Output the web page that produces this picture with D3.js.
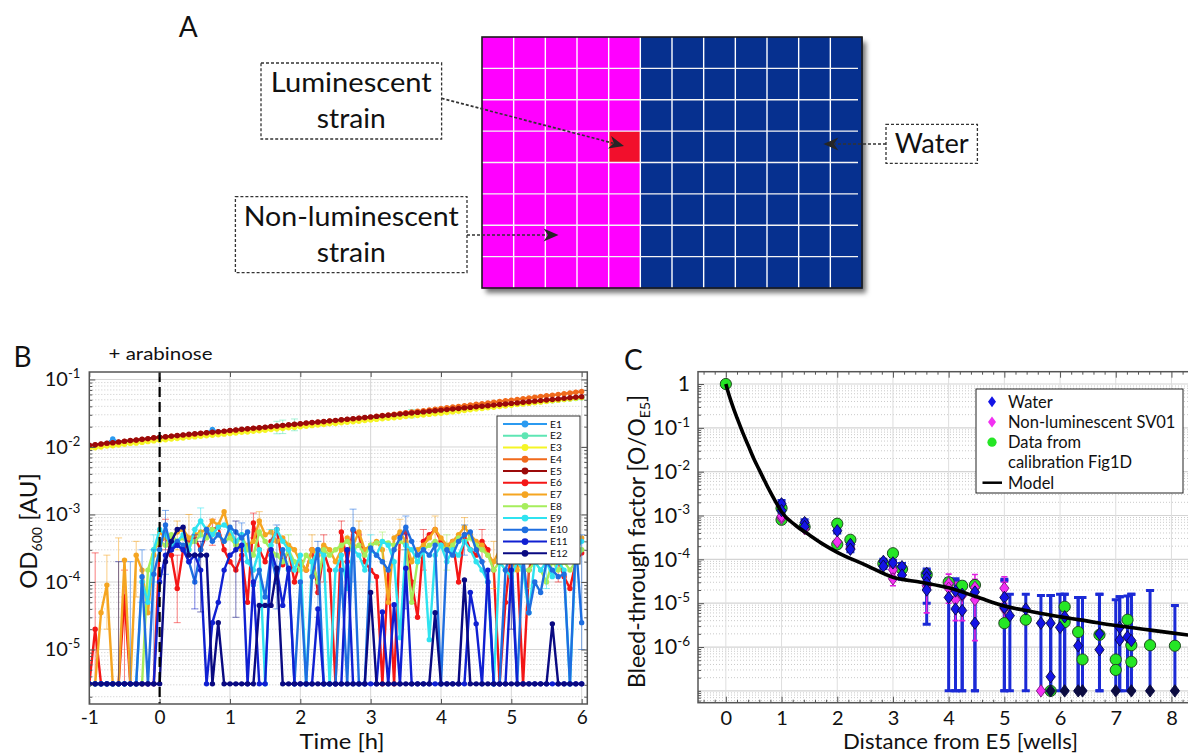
<!DOCTYPE html>
<html><head><meta charset="utf-8">
<script src="https://cdn.jsdelivr.net/npm/d3@7"></script>
<style>
html,body{margin:0;padding:0;background:#fff;}
svg{display:block;}
text{font-family:Lato,"Open Sans",sans-serif;fill:#111;}
</style></head>
<body>
<svg id="fig" width="1188" height="756" viewBox="0 0 1188 756"></svg>
<script>
// ================= DATA =================
// ---- Panel A: plate layout ----
const plateCols = [1,2,3,4,5,6,7,8,9,10,11,12];
const plateRows = [1,2,3,4,5,6,7,8];
const nonLumCols = [1,2,3,4,5];
const lumWell = {row:4, col:5};
const labelLum = ["Luminescent","strain"];
const labelNonLum = ["Non-luminescent","strain"];
const labelWater = "Water";

// ---- Panel B: OD600 time courses ----
const wellNames = ["E1","E2","E3","E4","E5","E6","E7","E8","E9","E10","E11","E12"];
const wellColors = ["#2b9af0","#5ee6b4","#f5f526","#f06a1c","#9b0a0a","#f41616","#f5a521","#a6ee5c","#2fe3f0","#1e6ee0","#1020d2","#0a0a82"];
const timeMin = [-60,-55,-50,-45,-40,-35,-30,-25,-20,-15,-10,-5,
0,5,10,15,20,25,30,35,40,45,50,55,
60,65,70,75,80,85,90,95,100,105,110,115,
120,125,130,135,140,145,150,155,160,165,170,175,
180,185,190,195,200,205,210,215,220,225,230,235,
240,245,250,255,260,265,270,275,280,285,290,295,
300,305,310,315,320,325,330,335,340,345,350,355,
360];
const odE1 = [0.0104,0.0106,0.0109,0.0112,0.0131,0.0117,0.0120,0.0123,0.0124,0.0127,0.0130,0.0134,0.0137,
0.0139,0.0142,0.0145,0.0148,0.0151,0.0154,0.0157,0.0160,0.0182,0.0166,0.0169,0.0172,
0.0175,0.0179,0.0182,0.0186,0.0189,0.0193,0.0197,0.0201,0.0205,0.0209,0.0213,0.0217,
0.0221,0.0225,0.0229,0.0234,0.0239,0.0243,0.0248,0.0253,0.0258,0.0263,0.0268,0.0273,
0.0278,0.0284,0.0289,0.0295,0.0301,0.0307,0.0313,0.0318,0.0324,0.0331,0.0337,0.0344,
0.0351,0.0358,0.0365,0.0371,0.0378,0.0386,0.0393,0.0401,0.0409,0.0417,0.0424,0.0433,
0.0441,0.0450,0.0459,0.0467,0.0476,0.0486,0.0495,0.0505,0.0515,0.0525,0.0534,0.0545];
const odE2 = [0.0102,0.0104,0.0107,0.0109,0.0111,0.0114,0.0117,0.0120,0.0122,0.0125,0.0128,0.0132,0.0134,
0.0136,0.0139,0.0142,0.0145,0.0148,0.0151,0.0154,0.0156,0.0159,0.0162,0.0165,0.0169,
0.0172,0.0176,0.0179,0.0182,0.0185,0.0189,0.0193,0.0197,0.0201,0.0204,0.0208,0.0212,
0.0217,0.0221,0.0225,0.0229,0.0234,0.0238,0.0243,0.0248,0.0252,0.0257,0.0262,0.0268,
0.0273,0.0278,0.0283,0.0289,0.0295,0.0300,0.0306,0.0312,0.0318,0.0324,0.0330,0.0337,
0.0344,0.0350,0.0357,0.0364,0.0371,0.0378,0.0385,0.0393,0.0400,0.0408,0.0416,0.0424,
0.0432,0.0441,0.0449,0.0458,0.0467,0.0476,0.0485,0.0494,0.0504,0.0514,0.0523,0.0534];
const odE3 = [0.00954,0.00972,0.00999,0.0103,0.0104,0.0107,0.0110,0.0113,0.0114,0.0117,0.0120,0.0123,
0.0126,0.0128,0.0131,0.0133,0.0136,0.0139,0.0141,0.0144,0.0147,0.0149,0.0152,0.0155,
0.0158,0.0161,0.0165,0.0167,0.0171,0.0174,0.0177,0.0181,0.0185,0.0188,0.0192,0.0195,
0.0199,0.0203,0.0207,0.0211,0.0215,0.0220,0.0223,0.0228,0.0232,0.0237,0.0241,0.0246,
0.0251,0.0256,0.0261,0.0266,0.0271,0.0276,0.0282,0.0287,0.0293,0.0298,0.0304,0.0310,
0.0316,0.0324,0.0331,0.0339,0.0347,0.0355,0.0364,0.0371,0.0380,0.0388,0.0397,0.0405,
0.0415,0.0424,0.0433,0.0442,0.0452,0.0461,0.0472,0.0482,0.0493,0.0503,0.0514,0.0525,
0.0538];
const odE4 = [0.0105,0.0107,0.0110,0.0113,0.0115,0.0118,0.0121,0.0124,0.0126,0.0129,0.0132,0.0136,
0.0139,0.0141,0.0144,0.0147,0.0150,0.0152,0.0155,0.0158,0.0161,0.0164,0.0167,0.0170,
0.0174,0.0177,0.0181,0.0184,0.0188,0.0191,0.0195,0.0199,0.0203,0.0207,0.0211,0.0215,
0.0219,0.0224,0.0228,0.0232,0.0237,0.0242,0.0246,0.0251,0.0256,0.0261,0.0266,0.0271,
0.0277,0.0285,0.0293,0.0299,0.0307,0.0315,0.0322,0.0330,0.0338,0.0346,0.0355,0.0363,
0.0372,0.0381,0.0391,0.0400,0.0409,0.0419,0.0429,0.0439,0.0450,0.0461,0.0472,0.0483,
0.0495,0.0507,0.0520,0.0533,0.0546,0.0559,0.0573,0.0587,0.0602,0.0616,0.0631,0.0646,
0.0662];
const odE5 = [0.0106,0.0108,0.0111,0.0114,0.0116,0.0119,0.0122,0.0125,0.0127,0.0130,0.0133,0.0137,
0.0140,0.0142,0.0145,0.0148,0.0151,0.0154,0.0157,0.0160,0.0163,0.0166,0.0169,0.0172,
0.0176,0.0179,0.0183,0.0186,0.0190,0.0193,0.0197,0.0201,0.0205,0.0209,0.0213,0.0217,
0.0221,0.0226,0.0230,0.0234,0.0239,0.0244,0.0248,0.0253,0.0258,0.0263,0.0268,0.0273,
0.0279,0.0284,0.0290,0.0295,0.0301,0.0307,0.0313,0.0319,0.0325,0.0331,0.0338,0.0344,
0.0351,0.0358,0.0365,0.0372,0.0379,0.0386,0.0394,0.0401,0.0409,0.0417,0.0425,0.0433,
0.0442,0.0450,0.0459,0.0468,0.0477,0.0486,0.0496,0.0505,0.0515,0.0525,0.0535,0.0545,
0.0556];
// 0 = below detection (drawn on the bottom baseline)
const odE6 = [0,2e-5,0,0,0,0,6e-5,0,0,0,0,0,
3.5e-4,5e-4,2.5e-4,8e-5,3e-4,4e-4,4.5e-4,3e-4,5e-4,6e-4,6.5e-4,3e-4,
2e-4,1.5e-4,2.5e-4,5e-5,7.5e-4,3e-4,2e-4,4e-4,6e-4,1.8e-4,3e-4,1e-4,
2e-4,1.5e-4,3e-4,7e-5,2.8e-4,1.5e-4,0,5.5e-4,2e-4,5.8e-4,5e-4,2e-4,
1.5e-4,1.2e-4,0,1.5e-4,0,5e-4,5.5e-4,1e-4,3e-5,4e-4,5e-4,6e-4,
4e-4,3e-4,4e-4,1e-4,5e-4,3e-4,2.5e-4,4e-4,3e-4,1.5e-4,0,5e-5,
3e-4,2e-4,0,1.5e-4,3e-4,2.5e-4,2e-4,3e-4,2e-4,1.2e-4,8e-5,2e-4,
2.7e-4];
const odE7 = [0,0,3.5e-5,9e-5,0,0,2.1e-4,0,2.5e-4,1.5e-4,3.5e-5,2.5e-4,
5.5e-4,4.5e-4,4.5e-4,5.5e-4,6e-4,4.5e-4,5e-4,5.5e-4,6e-4,8e-4,7e-4,1.1e-3,
5e-4,4e-4,3e-4,3.5e-4,4e-4,8e-4,5e-4,5.5e-4,4e-4,4.5e-4,3.5e-4,3e-4,
2e-4,1.5e-4,3e-4,2.5e-4,3.5e-4,3e-4,2e-4,3e-4,4.5e-4,3.5e-4,5.5e-4,3e-4,
3.5e-4,4e-4,3e-4,5e-5,4.5e-4,5.5e-4,4e-4,2e-4,3e-4,3.5e-4,4.5e-4,6e-4,
4.5e-4,3.5e-4,4e-4,5e-4,6.5e-4,5e-4,4e-4,3.5e-4,2.5e-4,2e-4,3e-4,2.5e-4,
2e-4,1.5e-4,2.5e-4,3e-4,2e-4,2.5e-4,3e-4,2.5e-4,3e-4,2e-4,2.5e-4,3.5e-4,
4.5e-4];
const odE8 = [0,0,0,0,0,0,0,0,0,0,1.5e-4,3e-4,
4e-4,3.5e-4,5e-4,4e-4,4.5e-4,3.5e-4,4e-4,5e-4,4.5e-4,6e-4,5e-4,4e-4,
4.5e-4,3.5e-4,5e-4,3e-4,2.5e-4,5.5e-4,4e-4,3e-4,2.5e-4,2e-4,3e-4,2e-4,
1.5e-4,2.5e-4,2e-4,1e-4,3e-4,2.5e-4,3e-4,3.5e-4,4e-4,3e-4,3.5e-4,2.5e-4,
3.5e-4,3.8e-4,4e-4,3.8e-4,3.5e-4,4e-4,3.5e-4,5e-5,2e-4,3e-4,3.5e-4,4e-4,
3.5e-4,3e-4,3.5e-4,4.5e-4,4e-4,4.5e-4,3.5e-4,3e-4,2.5e-4,1.5e-4,2e-4,1.5e-4,
1.2e-4,2e-4,1.5e-4,1.5e-4,2e-4,1.5e-4,1e-4,2e-4,1.5e-4,2e-4,1.5e-4,2e-4,
3e-4];
const odE9 = [0,0,0,0,0,0,0,0,0,1e-4,5e-5,3e-4,
6e-4,5e-4,3.5e-4,4e-4,5e-4,3e-4,6e-4,8e-4,6e-4,5e-4,6.5e-4,7e-4,
6e-4,4e-4,5e-4,2e-4,1.5e-4,3e-4,0,3.5e-4,6e-4,4e-4,3e-4,1.5e-4,
2.5e-4,0,2e-4,3e-4,2.5e-4,0,1.5e-4,2.5e-4,8e-5,3e-4,2.5e-4,1.5e-4,
3e-4,2.5e-4,4e-4,3.5e-4,2e-4,1.5e-5,3.5e-4,3e-4,2e-4,3e-4,1.4e-5,2.5e-4,
3.5e-4,2e-4,3e-4,2.5e-4,4e-4,3e-4,2e-4,1.5e-4,1e-4,0,2e-4,1.5e-4,
1.2e-4,2e-4,1.5e-4,3.5e-5,2e-4,1.5e-4,2e-4,1.2e-4,2e-4,1.5e-4,0,3e-4,
4e-4];
const odE10 = [0,0,0,0,0,0,0,0,0,1.2e-4,0,1.3e-4,
3e-4,7e-4,3e-4,4e-4,3.5e-4,2e-4,1e-4,3e-4,6e-4,4e-4,5e-4,4e-4,
6.5e-4,5.5e-4,4.5e-4,5.5e-4,9e-5,1.5e-4,6e-5,2.5e-4,1e-4,3e-4,1.5e-4,0,
1e-4,0,1.2e-4,3e-4,0,0,0,1.5e-4,0,6e-4,0,0,
3.2e-4,2.5e-4,2e-4,1.5e-4,3e-4,4.5e-4,6.5e-4,4e-4,2.5e-4,3e-4,2.5e-4,3.5e-4,
0,3e-4,2.5e-4,4e-4,5e-4,5.5e-4,3e-4,2e-4,1e-4,0,0,1.5e-4,
3e-4,0,2.5e-4,3.5e-5,1e-4,7e-5,2e-4,1.5e-4,1.2e-4,1.3e-4,0,4e-4,
2.5e-5];
const odE11 = [0,0,0,0,0,0,0,0,0,0,0,0,
1e-4,2.5e-4,3e-4,3.5e-4,3e-4,2e-4,2.5e-4,1.5e-4,0,2.5e-5,5e-5,1.5e-4,
2.5e-4,3e-4,3.5e-4,0,1e-4,0,0,3e-4,1.5e-4,4.5e-5,1.6e-4,0,
0,0,0,4e-5,0,0,0,0,3e-4,0,0,0,
0,0,3.6e-5,0,4.6e-5,0,1.6e-4,0,0,0,0,0,
0,0,0,0,0,7e-5,2.4e-5,0,1.5e-4,0,0,0,
1.5e-4,0,0,0,0,0,0,0,0,0,0,0,
0];
const odE12 = [0,0,0,0,0,0,0,0,0,0,0,0,
0,2e-4,4e-4,6e-4,6.5e-4,2.5e-4,2.5e-4,2.5e-4,2.5e-4,0,2.5e-5,0,
0,0,0,0,0,4.5e-5,4.5e-5,4.5e-5,1.6e-4,0,0,0,
0,0,0,0,0,0,0,0,0,0,0,0,
7e-5,0,0,0,0,0,0,0,0,0,0,3.5e-5,
0,0,0,0,1.07e-4,0,0,0,0,0,0,0,
0,0,0,0,0,0,0,2.4e-5,0,0,0,0,
0];
const odSeries = [odE1,odE2,odE3,odE4,odE5,odE6,odE7,odE8,odE9,odE10,odE11,odE12];
// visible error bars: [well index, time index, lower, upper] (0 = baseline)
const errBarsB = [
[1,32,0.0157,0.024],[1,33,0.0158,0.025],[1,35,0.0174,0.026],[1,55,0.027,0.036],
[5,1,0,2.7e-4],[6,3,2e-5,2.5e-4],[6,5,0,4.5e-4],[11,5,0,2e-4],[9,7,0,2e-4],[9,9,5e-5,3e-4],
[5,6,0,1.5e-4],[6,8,6e-5,4e-4],[9,11,0,3e-4],[8,11,1e-4,5e-4],[9,13,1.3e-4,1.15e-3],
[5,13,3e-4,8.5e-4],[6,15,3e-4,8e-4],[5,15,2.5e-5,2.5e-4],[6,17,2.5e-4,1e-3],[8,19,4.5e-4,1.25e-3],
[11,19,3.6e-5,4e-4],[10,18,4e-5,5e-4],[5,21,3.5e-4,8.5e-4],[11,25,3e-5,8e-4],[9,26,2e-4,7.5e-4],
[5,28,4.5e-4,1.05e-3],[6,29,5e-4,1.1e-3],[8,31,2e-4,6e-4],[9,32,4e-5,7e-4],[7,34,1.5e-4,5e-4],
[6,38,1.5e-4,5e-4],[9,39,3e-5,4e-4],[5,40,1e-4,5e-4],[9,45,1e-4,1.2e-3],[6,46,3.5e-4,8e-4],
[5,43,2e-4,8e-4],[8,48,1e-4,5e-4],[7,50,2e-4,5.5e-4],[9,54,3e-4,9.5e-4],[6,53,3e-4,8.5e-4],
[5,57,1.5e-4,6e-4],[10,54,4e-5,5e-4],[6,59,4e-4,9.5e-4],[7,61,1.5e-4,5e-4],[9,64,2.5e-4,7e-4],
[6,64,4e-4,9e-4],[5,67,2e-4,6e-4],[6,69,8e-5,4e-4],[9,72,5e-5,5e-4],[11,72,2e-5,3e-4],
[7,75,8e-5,3e-4],[8,78,8e-5,3.5e-4],[5,80,1e-4,3.5e-4],[6,83,2e-4,5e-4],[9,84,1e-5,5e-4]];
const hoursB = [-1,0,1,2,3,4,5,6];
const decadesB = [1e-1,1e-2,1e-3,1e-4,1e-5];

// ---- Panel C: bleed-through vs distance ----
const waterDist = [1.000,1.000,1.414,1.414,2.000,2.236,2.236,2.828,2.828,3.000,3.162,3.162,3.606,3.606,3.606,3.606,
4.000,4.123,4.123,4.243,4.243,4.472,4.472,5.000,5.000,5.099,5.385,5.657,5.831,5.831,5.831,6.000,6.083,6.083,
6.325,6.325,6.403,6.708,6.708,7.000,7.071,7.071,7.211,7.280,7.280,7.616,8.062];
const waterVal = [1.85e-3,1.3e-3,6.9e-4,5.6e-4,4.5e-4,2.2e-4,1.7e-4,9e-5,7e-5,8.3e-5,6.8e-5,4.4e-5,4.8e-5,3.8e-5,2.9e-5,2e-5,
1.35e-5,1.9e-5,7.4e-6,1.6e-5,6.8e-6,1.8e-5,3.5e-6,1.35e-5,8e-6,5.2e-6,7.4e-6,3.5e-6,3.5e-6,2.1e-7,0,2.8e-6,4.9e-6,0,
1.07e-6,0,0,2e-6,8.7e-7,0,2.8e-6,1.45e-6,1.7e-6,1.4e-6,0,0,0];
const waterErrLo = [1.6e-3,1.15e-3,6e-4,5e-4,4e-4,1.9e-4,1.5e-4,8e-5,6.2e-5,7e-5,5.8e-5,3.5e-5,4e-5,2.2e-5,1e-5,3.3e-6,
0,0,0,0,0,0,0,0,0,0,0,0,0,0,0,0,0,0,
0,0,0,0,0,0,0,0,0,0,0,0,0];
const waterErrHi = [2.2e-3,1.45e-3,8e-4,6.3e-4,5e-4,2.6e-4,1.9e-4,1e-4,8e-5,9.5e-5,8e-5,5.5e-5,6e-5,5.5e-5,4.5e-5,3.5e-5,
3.6e-5,3.6e-5,3.3e-5,3e-5,2.8e-5,2.9e-5,2.7e-5,3.5e-5,3.2e-5,1.6e-5,1.6e-5,1.5e-5,1.5e-5,1.5e-5,1.5e-5,1.6e-5,1.6e-5,1.6e-5,
1.35e-5,1.35e-5,1.35e-5,1.6e-5,1.6e-5,1.2e-5,1.4e-5,1.4e-5,1.45e-5,1.6e-5,1.6e-5,1.95e-5,8.9e-6];
const nonLumDist = [1.000,1.000,1.414,2.000,2.236,3.000,3.000,3.606,4.000,4.000,4.123,4.243,4.472,4.472,5.000,5.000,5.657];
const nonLumVal = [8.7e-4,9.6e-4,5e-4,2.5e-4,1.8e-4,5.8e-5,3.6e-5,2.5e-5,2.8e-5,2.2e-5,1.2e-5,1.5e-5,2.3e-5,1.2e-5,2.2e-5,7.5e-6,0];
const nonLumErrLo = [7.8e-4,8.8e-4,4.5e-4,2.2e-4,1.6e-4,4.8e-5,2.5e-5,6e-6,1.5e-5,1e-5,4e-6,4e-6,1.2e-5,1.4e-6,1e-5,3e-6,0];
const nonLumErrHi = [9.8e-4,1.05e-3,5.5e-4,2.8e-4,2e-4,7e-5,4.8e-5,4.5e-5,4.6e-5,3.8e-5,3e-5,3e-5,4.5e-5,3.5e-5,4e-5,3e-5,0];
const calibDist = [0.000,1.000,1.000,1.414,2.000,2.000,2.236,2.828,3.000,3.162,3.606,4.000,4.243,4.472,5.000,5.385,5.831,
6.083,6.083,6.325,6.403,6.708,7.000,7.000,7.211,7.280,7.280,7.616,8.062];
const calibVal = [1.0,1.47e-3,8e-4,5.5e-4,6.5e-4,2.2e-4,2.8e-4,8e-5,1.38e-4,6e-5,4.5e-5,3e-5,2.5e-5,2.6e-5,3.5e-6,4.2e-6,0,
8.3e-6,3.7e-6,2.2e-6,5.2e-7,1.9e-6,5.2e-7,3e-7,4.2e-6,1.1e-6,4.6e-7,1.1e-6,1.07e-6];
const modelDist = [0,0.05,0.1,0.15,0.2,0.3,0.4,0.5,0.6,0.75,0.9,1.0,1.25,1.5,1.75,2.0,2.5,3.0,3.5,4.0,4.5,5.0,5.5,6.0,6.5,7.0,7.5,8.0,8.5];
const modelVal = [1,0.6,0.38,0.25,0.17,0.08,0.04,0.02,0.011,0.0045,0.002,1.2e-3,6e-4,3.6e-4,2.2e-4,1.45e-4,7.5e-5,3.9e-5,3e-5,2.25e-5,1.4e-5,8.6e-6,6.4e-6,4.9e-6,3.9e-6,3.1e-6,2.55e-6,2.1e-6,1.75e-6];
const distTicks = [0,1,2,3,4,5,6,7,8];
const decadesC = [1,1e-1,1e-2,1e-3,1e-4,1e-5,1e-6];
const legendC = ["Water","Non-luminescent SV01","Data from","calibration Fig1D","Model"];

// ================= DRAWING =================
const FONT = 'Lato, "Open Sans", sans-serif';
const svg = d3.select("#fig");
const defs = svg.append("defs");
const flt = defs.append("filter").attr("id","shadow").attr("x","-5%").attr("y","-5%").attr("width","115%").attr("height","120%");
flt.append("feDropShadow").attr("dx",4).attr("dy",5).attr("stdDeviation",2.5).attr("flood-color","#000").attr("flood-opacity",0.55);

// ---------- Panel A ----------
const gA = svg.append("g");
const xA = d3.scaleBand().domain(plateCols).range([482,862]);
const yA = d3.scaleBand().domain(plateRows).range([37,288]);
gA.append("rect").attr("x",482).attr("y",37).attr("width",380).attr("height",251)
  .attr("fill","#06308f").attr("filter","url(#shadow)");
gA.selectAll("rect.cell").data(d3.cross(plateRows,plateCols)).join("rect").attr("class","cell")
  .attr("x",d=>xA(d[1])).attr("y",d=>yA(d[0]))
  .attr("width",xA.bandwidth()+0.6).attr("height",yA.bandwidth()+0.6)
  .attr("fill",d=>(d[0]===lumWell.row&&d[1]===lumWell.col)?"#f20f2c":(nonLumCols.includes(d[1])?"#ff00ff":"#06308f"));
gA.selectAll("line.pv").data(plateCols.slice(1)).join("line").attr("class","pv")
  .attr("x1",d=>xA(d)).attr("x2",d=>xA(d)).attr("y1",37).attr("y2",288)
  .attr("stroke","#fff").attr("stroke-width",1.4);
gA.selectAll("line.ph").data(plateRows.slice(1)).join("line").attr("class","ph")
  .attr("y1",d=>yA(d)).attr("y2",d=>yA(d)).attr("x1",482).attr("x2",858)
  .attr("stroke","#f4f4f4").attr("stroke-width",1.4);
gA.append("rect").attr("x",482).attr("y",37).attr("width",380).attr("height",251)
  .attr("fill","none").attr("stroke","#1b1b1b").attr("stroke-width",1.6);

function dashedBox(x,y,w,h){
  gA.append("rect").attr("x",x).attr("y",y).attr("width",w).attr("height",h)
    .attr("fill","none").attr("stroke","#333").attr("stroke-width",1.3).attr("stroke-dasharray","3,2");
}
function boxText(t,x,y,len){
  gA.append("text").attr("x",x).attr("y",y).attr("text-anchor","middle").attr("font-size",27)
    .attr("textLength",len).attr("lengthAdjust","spacingAndGlyphs").attr("fill","#2a2a2a").text(t);
}
function arrow(x1,y1,x2,y2){
  const a = Math.atan2(y2-y1,x2-x1);
  const L = 11;
  gA.append("line").attr("x1",x1).attr("y1",y1).attr("x2",x2-L*Math.cos(a)).attr("y2",y2-L*Math.sin(a))
    .attr("stroke","#333").attr("stroke-width",1.7).attr("stroke-dasharray","3,2");
  gA.append("path").attr("d","M0,0 L-15,-6.5 L-10.5,0 L-15,6.5 Z")
    .attr("transform",`translate(${x2},${y2}) rotate(${a*180/Math.PI})`).attr("fill","#262626");
}
dashedBox(261,63,180.6,76);
dashedBox(235.4,196.7,231.6,76);
dashedBox(886,124.3,91.4,39);
boxText(labelLum[0],351.3,91.7,161);
boxText(labelLum[1],351.3,128,69);
boxText(labelNonLum[0],351.2,226,215);
boxText(labelNonLum[1],351.2,262,69);
boxText(labelWater,931.7,153,74);
arrow(441.6,98.3,624,146);
arrow(467,235,558.5,235);
arrow(886,144,823.4,144);
svg.append("text").attr("x",178.8).attr("y",36.7).attr("font-size",28).text("A");

// ---------- Panel B ----------
const bL=89.3,bR=587.3,bT=372,bBot=704;
const xB = d3.scaleLinear().domain([-1,6.08]).range([bL,bR]);
const yB = d3.scaleLog().domain([1.56e-6,0.129]).range([bBot,bT]);
const FLOOR_B = 3.1e-6;
const gB = svg.append("g");
defs.append("clipPath").attr("id","clipB").append("rect").attr("x",bL).attr("y",bT).attr("width",bR-bL).attr("height",bBot-bT);
const minorB = [];
[-6,-5,-4,-3,-2,-1].forEach(e=>{for(let m=2;m<=9;m++){const v=m*Math.pow(10,e); if(v>1.56e-6&&v<0.129) minorB.push(v);}});
const gridB = gB.append("g");
gridB.selectAll("line.mn").data(minorB).join("line").attr("class","mn")
  .attr("x1",bL).attr("x2",bR).attr("y1",d=>yB(d)).attr("y2",d=>yB(d))
  .attr("stroke","#bdbdbd").attr("stroke-width",0.8).attr("stroke-dasharray","1,2");
gridB.selectAll("line.mj").data(decadesB).join("line").attr("class","mj")
  .attr("x1",bL).attr("x2",bR).attr("y1",d=>yB(d)).attr("y2",d=>yB(d))
  .attr("stroke","#d6d6d6").attr("stroke-width",1);
gridB.selectAll("line.vg").data(hoursB.slice(1)).join("line").attr("class","vg")
  .attr("x1",d=>xB(d)).attr("x2",d=>xB(d)).attr("y1",bT).attr("y2",bBot)
  .attr("stroke","#d6d6d6").attr("stroke-width",1);

const plotB = gB.append("g").attr("clip-path","url(#clipB)");
const lineB = d3.line().x(d=>xB(d.t)).y(d=>yB(d.v>0?d.v:FLOOR_B));
odSeries.forEach((vals,s)=>{
  const col = wellColors[s];
  const pts = vals.map((v,i)=>({t:timeMin[i]/60,v:v}));
  const eb = errBarsB.filter(e=>e[0]===s);
  const ge = plotB.append("g").attr("stroke",col).attr("stroke-opacity",0.55).attr("stroke-width",1);
  eb.forEach(e=>{
    const x = xB(timeMin[e[1]]/60);
    const y1 = yB(e[2]>0?e[2]:FLOOR_B), y2 = yB(e[3]);
    ge.append("line").attr("x1",x).attr("x2",x).attr("y1",y1).attr("y2",y2);
    ge.append("line").attr("x1",x-3.5).attr("x2",x+3.5).attr("y1",y2).attr("y2",y2);
    if(e[2]>0) ge.append("line").attr("x1",x-3.5).attr("x2",x+3.5).attr("y1",y1).attr("y2",y1);
  });
  plotB.append("path").datum(pts).attr("d",lineB).attr("fill","none").attr("stroke",col)
    .attr("stroke-width",2.4).attr("stroke-linejoin","round");
  plotB.append("g").selectAll("circle").data(pts).join("circle")
    .attr("cx",d=>xB(d.t)).attr("cy",d=>yB(d.v>0?d.v:FLOOR_B)).attr("r",2.7).attr("fill",col);
});
// arabinose line
gB.append("line").attr("x1",xB(0)).attr("x2",xB(0)).attr("y1",bT).attr("y2",bBot)
  .attr("stroke","#000").attr("stroke-width",2.2).attr("stroke-dasharray","10,5");

// axes B
function styleAxis(g,fs){ g.select(".domain").remove(); g.selectAll(".tick line").attr("stroke","#555").attr("stroke-width",1);
  g.attr("font-family",FONT).attr("font-size",fs); g.selectAll(".tick text").attr("fill","#111"); }
const axBb = gB.append("g").attr("transform",`translate(0,${bBot})`)
  .call(d3.axisBottom(xB).tickValues(hoursB).tickSize(-5).tickPadding(7).tickFormat(d=>String(d)));
styleAxis(axBb,19);
const axBt = gB.append("g").attr("transform",`translate(0,${bT})`)
  .call(d3.axisTop(xB).tickValues(hoursB).tickSize(-5).tickFormat(""));
styleAxis(axBt,10);
const axBl = gB.append("g").attr("transform",`translate(${bL},0)`)
  .call(d3.axisLeft(yB).tickValues(decadesB).tickSize(-6).tickPadding(9).tickFormat(""));
styleAxis(axBl,20);
axBl.selectAll(".tick text").each(function(d){
  const t=d3.select(this); const e=Math.round(Math.log10(d));
  t.append("tspan").text("10"); t.append("tspan").attr("dy",-8).attr("font-size",13).text(String(e));
});
const axBlm = gB.append("g").attr("transform",`translate(${bL},0)`)
  .call(d3.axisLeft(yB).tickValues(minorB).tickSize(-3).tickFormat(""));
styleAxis(axBlm,10);
const axBr = gB.append("g").attr("transform",`translate(${bR},0)`)
  .call(d3.axisRight(yB).tickValues(decadesB).tickSize(-6).tickFormat(""));
styleAxis(axBr,10);
const axBrm = gB.append("g").attr("transform",`translate(${bR},0)`)
  .call(d3.axisRight(yB).tickValues(minorB).tickSize(-3).tickFormat(""));
styleAxis(axBrm,10);
gB.append("rect").attr("x",bL).attr("y",bT).attr("width",bR-bL).attr("height",bBot-bT)
  .attr("fill","none").attr("stroke","#555").attr("stroke-width",1.5);

// legend B
const legB = gB.append("g");
legB.append("rect").attr("x",497).attr("y",416).attr("width",83).attr("height",148)
  .attr("fill","#fff").attr("stroke","#333").attr("stroke-width",1);
const legRowB = d3.scalePoint().domain(wellNames).range([424,553.3]);
wellNames.forEach((n,i)=>{
  const y = legRowB(n);
  legB.append("line").attr("x1",503).attr("x2",547).attr("y1",y).attr("y2",y).attr("stroke",wellColors[i]).attr("stroke-width",2);
  legB.append("circle").attr("cx",525).attr("cy",y).attr("r",3.4).attr("fill",wellColors[i]);
  legB.append("text").attr("x",550).attr("y",y+3.7).attr("font-size",10.2).text(n);
});
// labels B
svg.append("text").attr("x",13.5).attr("y",367).attr("font-size",28).text("B");
svg.append("text").attr("x",108.5).attr("y",360).attr("font-size",18).attr("textLength",104).attr("lengthAdjust","spacingAndGlyphs").text("+ arabinose");
svg.append("text").attr("x",342).attr("y",749).attr("text-anchor","middle").attr("font-size",22)
  .attr("textLength",85).attr("lengthAdjust","spacingAndGlyphs").text("Time [h]");
const ylB = svg.append("text").attr("transform","translate(36.5,531) rotate(-90)").attr("text-anchor","middle").attr("font-size",24);
ylB.append("tspan").text("OD");
ylB.append("tspan").attr("font-size",14).attr("dy",5).text("600");
ylB.append("tspan").attr("dy",-5).text(" [AU]");

// ---------- Panel C ----------
const cL=698,cR=1199.3,cT=371.7,cBot=702.7;
const xC = d3.scaleLinear().domain([-0.5,8.5]).range([cL,cR]);
const yC = d3.scaleLog().domain([Math.pow(10,-7.27),Math.pow(10,0.281)]).range([cBot,cT]);
const FLOOR_C = 1e-7;
const gC = svg.append("g");
defs.append("clipPath").attr("id","clipC").append("rect").attr("x",cL).attr("y",cT).attr("width",cR-cL).attr("height",cBot-cT);
const minorC = [];
[-8,-7,-6,-5,-4,-3,-2,-1,0].forEach(e=>{for(let m=2;m<=9;m++){const v=m*Math.pow(10,e); if(v>yC.domain()[0]&&v<yC.domain()[1]) minorC.push(v);}});
const gridMajC = decadesC.concat([1e-7]);
const gridC = gC.append("g");
gridC.selectAll("line.mn").data(minorC).join("line").attr("class","mn")
  .attr("x1",cL).attr("x2",cR).attr("y1",d=>yC(d)).attr("y2",d=>yC(d))
  .attr("stroke","#bcbcbc").attr("stroke-width",0.8).attr("stroke-dasharray","1,2");
gridC.selectAll("line.mj").data(gridMajC).join("line").attr("class","mj")
  .attr("x1",cL).attr("x2",cR).attr("y1",d=>yC(d)).attr("y2",d=>yC(d))
  .attr("stroke","#d4d4d4").attr("stroke-width",1.2);
gridC.selectAll("line.vg").data(distTicks).join("line").attr("class","vg")
  .attr("x1",d=>xC(d)).attr("x2",d=>xC(d)).attr("y1",cT).attr("y2",cBot)
  .attr("stroke","#dedede").attr("stroke-width",1);

const plotC = gC.append("g").attr("clip-path","url(#clipC)");
const fy = v => yC(v>0?v:FLOOR_C);
// water error bars
const gwe = plotC.append("g").attr("stroke","#1b2ad6").attr("stroke-width",3);
waterDist.forEach((d,i)=>{
  const x=xC(d), y1=fy(waterErrLo[i]), y2=yC(waterErrHi[i]);
  gwe.append("line").attr("x1",x).attr("x2",x).attr("y1",y1).attr("y2",y2);
  gwe.append("line").attr("x1",x-4).attr("x2",x+4).attr("y1",y2).attr("y2",y2);
  gwe.append("line").attr("x1",x-4).attr("x2",x+4).attr("y1",y1).attr("y2",y1);
});
// non-luminescent error bars
const gme = plotC.append("g").attr("stroke","#e021e0").attr("stroke-width",1.6);
nonLumDist.forEach((d,i)=>{
  if(!(nonLumErrHi[i]>0)) return;
  const x=xC(d), y1=fy(nonLumErrLo[i]), y2=yC(nonLumErrHi[i]);
  gme.append("line").attr("x1",x).attr("x2",x).attr("y1",y1).attr("y2",y2);
  gme.append("line").attr("x1",x-3).attr("x2",x+3).attr("y1",y2).attr("y2",y2);
  gme.append("line").attr("x1",x-3).attr("x2",x+3).attr("y1",y1).attr("y2",y1);
});
// calibration circles
plotC.append("g").selectAll("circle").data(calibDist).join("circle")
  .attr("cx",d=>xC(d)).attr("cy",(d,i)=>fy(calibVal[i])).attr("r",5.6)
  .attr("fill","#25e625").attr("stroke","#1f4a1f").attr("stroke-width",1);
const diamond = "M0,-6.2 L4.6,0 L0,6.2 L-4.6,0 Z";
plotC.append("g").selectAll("path").data(nonLumDist).join("path")
  .attr("d",diamond).attr("transform",(d,i)=>`translate(${xC(d)},${fy(nonLumVal[i])})`)
  .attr("fill","#f230f2").attr("stroke","#7a1a7a").attr("stroke-width",0.9);
plotC.append("g").selectAll("path").data(waterDist).join("path")
  .attr("d",diamond).attr("transform",(d,i)=>`translate(${xC(d)},${fy(waterVal[i])})`)
  .attr("fill",(d,i)=>waterVal[i]>0?"#1414e6":"#0c0c40").attr("stroke","#0a0a40").attr("stroke-width",0.9);
// model
const modelPts = modelDist.map((d,i)=>({x:d,v:modelVal[i]}));
plotC.append("path").datum(modelPts)
  .attr("d",d3.line().x(d=>xC(d.x)).y(d=>yC(d.v)).curve(d3.curveMonotoneX))
  .attr("fill","none").attr("stroke","#000").attr("stroke-width",3.6);

// axes C
const minorX = d3.range(-4,85,2).map(k=>k/10).filter(v=>Math.abs(v-Math.round(v))>1e-6);
const axCb = gC.append("g").attr("transform",`translate(0,${cBot})`)
  .call(d3.axisBottom(xC).tickValues(distTicks).tickSize(-6).tickPadding(8).tickFormat(d=>String(d)));
styleAxis(axCb,20);
const axCbm = gC.append("g").attr("transform",`translate(0,${cBot})`)
  .call(d3.axisBottom(xC).tickValues(minorX).tickSize(-3).tickFormat(""));
styleAxis(axCbm,10);
const axCt = gC.append("g").attr("transform",`translate(0,${cT})`)
  .call(d3.axisTop(xC).tickValues(distTicks).tickSize(-6).tickFormat(""));
styleAxis(axCt,10);
const axCtm = gC.append("g").attr("transform",`translate(0,${cT})`)
  .call(d3.axisTop(xC).tickValues(minorX).tickSize(-3).tickFormat(""));
styleAxis(axCtm,10);
const axCl = gC.append("g").attr("transform",`translate(${cL},0)`)
  .call(d3.axisLeft(yC).tickValues(decadesC).tickSize(-6).tickPadding(8).tickFormat(""));
styleAxis(axCl,21);
axCl.selectAll(".tick text").each(function(d){
  const t=d3.select(this); const e=Math.round(Math.log10(d));
  if(e===0){ t.text("1"); return; }
  t.append("tspan").text("10"); t.append("tspan").attr("dy",-8.5).attr("font-size",13.5).text(String(e));
});
const axClm = gC.append("g").attr("transform",`translate(${cL},0)`)
  .call(d3.axisLeft(yC).tickValues(minorC.concat([1e-7])).tickSize(-3).tickFormat(""));
styleAxis(axClm,10);
gC.append("rect").attr("x",cL).attr("y",cT).attr("width",cR-cL).attr("height",cBot-cT)
  .attr("fill","none").attr("stroke","#555").attr("stroke-width",1.5);

// legend C
const legC = gC.append("g");
legC.append("rect").attr("x",976).attr("y",389).attr("width",207).attr("height",104)
  .attr("fill","#fff").attr("stroke","#222").attr("stroke-width",1);
const legRowC = d3.scalePoint().domain(legendC).range([401.7,482.7]);
legendC.forEach(n=>{
  legC.append("text").attr("x",1008).attr("y",legRowC(n)+5.8).attr("font-size",16.5).text(n);
});
legC.append("path").attr("d","M0,-5.5 L4,0 L0,5.5 L-4,0 Z").attr("transform",`translate(992,${legRowC(legendC[0])})`).attr("fill","#1414e6");
legC.append("path").attr("d","M0,-5.5 L4,0 L0,5.5 L-4,0 Z").attr("transform",`translate(992,${legRowC(legendC[1])})`).attr("fill","#f230f2");
legC.append("circle").attr("cx",992).attr("cy",legRowC(legendC[2])).attr("r",4.6).attr("fill","#25e625");
legC.append("line").attr("x1",982.5).attr("x2",1002).attr("y1",legRowC(legendC[4])).attr("y2",legRowC(legendC[4]))
  .attr("stroke","#000").attr("stroke-width",2.5);

// labels C
svg.append("text").attr("x",624).attr("y",370).attr("font-size",28).text("C");
svg.append("text").attr("x",960.5).attr("y",749).attr("text-anchor","middle").attr("font-size",21.5)
  .attr("textLength",235).attr("lengthAdjust","spacingAndGlyphs").text("Distance from E5 [wells]");
const ylC = svg.append("text").attr("transform","translate(645,541.5) rotate(-90)").attr("text-anchor","middle").attr("font-size",23);
ylC.append("tspan").text("Bleed-through factor [O/O");
ylC.append("tspan").attr("font-size",14).attr("dy",5).text("E5");
ylC.append("tspan").attr("dy",-5).text("]");
</script>
</body></html>
